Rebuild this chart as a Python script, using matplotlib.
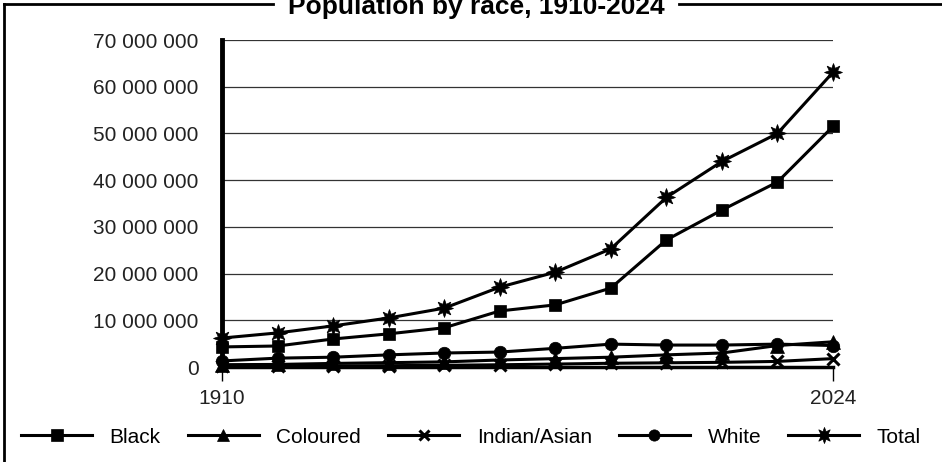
import matplotlib.pyplot as plt
from matplotlib.lines import Line2D
from matplotlib.ticker import FuncFormatter

plt.rcParams['font.family'] = ['Liberation Sans', 'DejaVu Sans']

years = ["1910", "", "", "", "", "", "", "", "", "", "", "2024"]
black = [4.3e6, 4.5e6, 6.0e6, 7.1e6, 8.4e6, 12.0e6, 13.3e6, 16.9e6, 27.2e6, 33.6e6, 39.6e6, 51.5e6]
coloured = [0.5e6, 0.55e6, 0.77e6, 0.93e6, 1.1e6, 1.5e6, 1.8e6, 2.1e6, 2.6e6, 3.0e6, 4.6e6, 5.4e6]
indian = [0.15e6, 0.16e6, 0.22e6, 0.29e6, 0.37e6, 0.48e6, 0.63e6, 0.8e6, 0.9e6, 1.0e6, 1.2e6, 1.8e6]
white = [1.3e6, 1.9e6, 2.1e6, 2.6e6, 3.0e6, 3.2e6, 4.0e6, 4.9e6, 4.7e6, 4.7e6, 4.9e6, 4.6e6]
total = [6.2e6, 7.3e6, 8.8e6, 10.5e6, 12.6e6, 17.1e6, 20.3e6, 25.3e6, 36.3e6, 44.0e6, 50.0e6, 63.1e6]

series = [("Black", black, "s", 9),
          ("Coloured", coloured, "^", 10),
          ("Indian/Asian", indian, "x", 8),
          ("White", white, "o", 9),
          ("Total", total, (8, 1, 0), 13)]

fig = plt.figure(figsize=(9.42, 4.62), dpi=100)
ax = fig.add_axes([0.2357, 0.2056, 0.6486, 0.7078])

x = list(range(len(years)))
for name, vals, mk, ms in series:
    ax.plot(x, vals, color="black", lw=2.2, marker=mk, ms=ms,
            mew=2.2 if mk == "x" else 0.5, label=name, clip_on=False)

ax.set_xlim(0, len(years) - 1)
ax.set_ylim(0, 70e6)
ax.set_yticks([i * 10e6 for i in range(8)])
ax.yaxis.set_major_formatter(FuncFormatter(lambda v, p: f"{int(v):,}".replace(",", " ")))
ax.yaxis.grid(True, color="#333333", lw=0.9)
ax.set_axisbelow(True)
ax.tick_params(axis="y", length=0, pad=17, labelsize=15, labelcolor="#222222")
ax.set_xticks([0, len(years) - 1])
ax.set_xticklabels([years[0], years[-1]])
ax.tick_params(axis="x", length=10, width=1, pad=6, labelsize=15, labelcolor="#222222")

for s in ["top", "right"]:
    ax.spines[s].set_visible(False)
ax.spines["left"].set_linewidth(3.5)
ax.spines["bottom"].set_linewidth(2.5)

fig.legend(loc="center", bbox_to_anchor=(0.5, 0.054), ncol=5, frameon=False,
           fontsize=15, handlelength=3.4, handletextpad=0.85, columnspacing=1.3,
           markerscale=0.9)

# frame around figure with gap for title
fig.add_artist(Line2D([0.0045, 0.0045], [0, 0.991], color="black", lw=2, transform=fig.transFigure))
fig.add_artist(Line2D([0.0045, 0.29], [0.991, 0.991], color="black", lw=2, transform=fig.transFigure))
fig.add_artist(Line2D([0.721, 1.0], [0.991, 0.991], color="black", lw=2, transform=fig.transFigure))
fig.text(0.506, 0.9697, "Population by race, 1910-2024", ha="center", va="baseline",
         fontsize=19, fontweight="bold")

fig.savefig("out.png", dpi=100)
